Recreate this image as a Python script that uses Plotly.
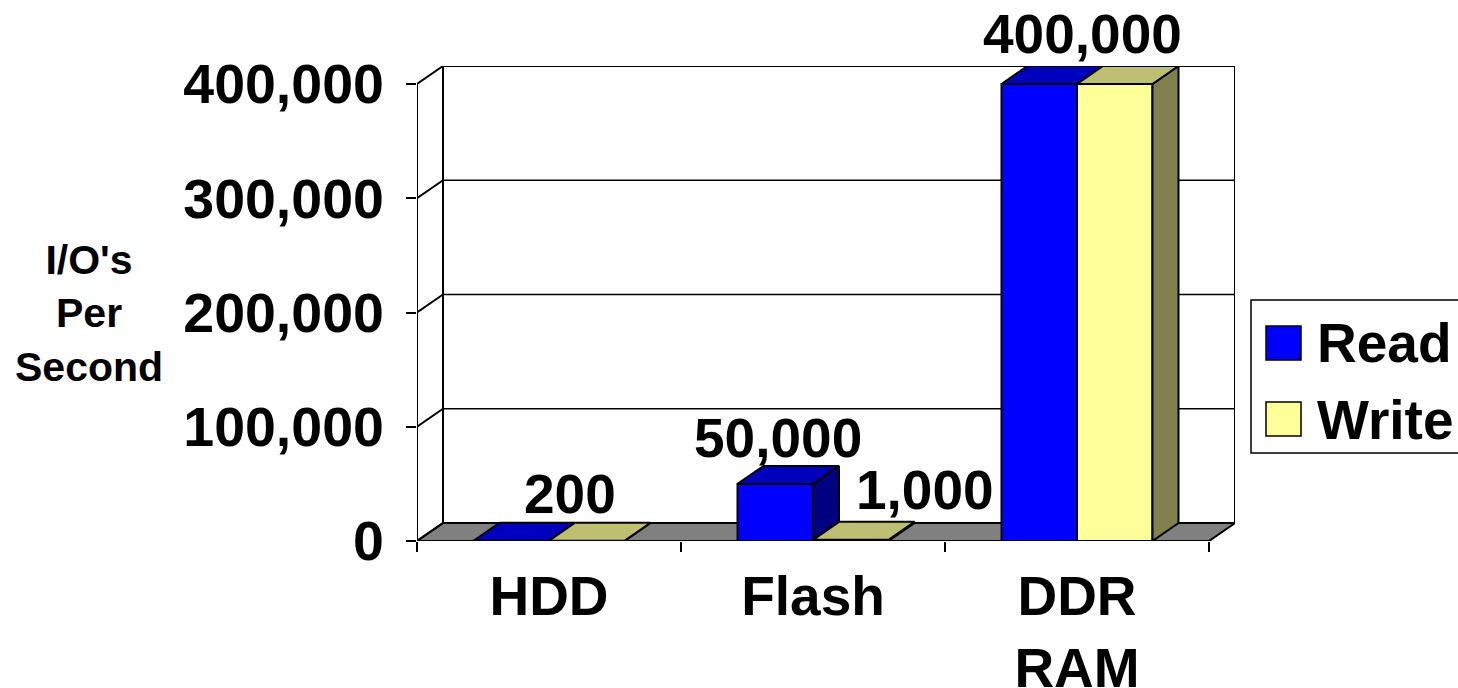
import plotly.graph_objects as go

categories = ["HDD", "Flash", "DDR<br>RAM"]
read_values = [200, 50000, 400000]
write_values = [200, 1000, 400000]
y_ticks = [0, 100000, 200000, 300000, 400000]
x_boundaries = [-0.5, 0.5, 1.5, 2.5]
label_texts = ["200", "50,000", "1,000", "400,000"]
label_cats = [0, 1, 1, 2]
label_vals = [200, 50000, 1000, 400000]
label_shift = [(21, 14), (-35, 13), (112, 17), (5, 17)]

W, H = 1458, 688
L, R, T, B = 417, 1235, 66, 541
DX = 26 / 264
DY = 18 / 457 * 400000
BW = 0.286
FONT = "Liberation Sans, Arial, sans-serif"
LW = 2


def px(x):
    return (x - L) / (R - L)


def py(y):
    return (B - y) / (B - T)


series = [
    ("Read", read_values, "#0000FF", "#0000BF", "#000080"),
    ("Write", write_values, "#FFFF99", "#BFBF73", "#80804D"),
]
xs = list(range(len(categories)))
fig = go.Figure()

for i, (name, vals, front, top, side) in enumerate(series):
    fig.add_trace(go.Bar(
        x=xs, y=vals, name=name, width=BW, offset=-BW + i * BW,
        marker=dict(color=front, line=dict(color="black", width=LW)),
        showlegend=False, cliponaxis=False,
    ))

for i, (name, vals, front, top, side) in enumerate(series):
    nxt = series[i + 1][1] if i + 1 < len(series) else [0] * len(vals)
    for c, v in zip(xs, vals):
        x0 = c - BW + i * BW
        x1 = x0 + BW
        if v > nxt[c]:
            low = nxt[c]
            fig.add_trace(go.Scatter(
                x=[x1, x1, x1 + DX, x1 + DX, x1],
                y=[low, v, v + DY, low + DY, low],
                mode="lines", fill="toself", fillcolor=side,
                line=dict(color="black", width=LW),
                showlegend=False, hoverinfo="skip", cliponaxis=False,
            ))
        fig.add_trace(go.Scatter(
            x=[x0, x1, x1 + DX, x0 + DX, x0],
            y=[v, v, v + DY, v + DY, v],
            mode="lines", fill="toself", fillcolor=top,
            line=dict(color="black", width=LW),
            showlegend=False, hoverinfo="skip", cliponaxis=False,
        ))

x_l, x_r = x_boundaries[0], x_boundaries[-1]
y_top = y_ticks[-1]
line = dict(color="black", width=LW)
thin = dict(color="black", width=1.5)
shapes = [
    # back wall
    dict(type="rect", x0=x_l + DX, x1=x_r + DX, y0=DY, y1=y_top + DY,
         fillcolor="white", line=line, layer="below"),
    # floor
    dict(type="path", fillcolor="#808080", line=line, layer="below",
         path=f"M{x_l},0 L{x_l + DX},{DY} L{x_r + DX},{DY} L{x_r},0 Z"),
    # left wall edge
    dict(type="line", x0=x_l, x1=x_l, y0=0, y1=y_top, line=line, layer="below"),
    # floor front edge
    dict(type="line", x0=x_l, x1=x_r, y0=0, y1=0, line=line, layer="below"),
]
for t in y_ticks:
    shapes.append(dict(type="line", x0=x_l, x1=x_l + DX, y0=t, y1=t + DY, line=line, layer="below"))
    shapes.append(dict(type="line", x0=x_l + DX, x1=x_r + DX, y0=t + DY, y1=t + DY, line=thin, layer="below"))
for s in shapes:
    s.update(xref="x", yref="y")

# legend box, clipped by the page edge as in the picture
shapes += [
    dict(type="rect", xref="paper", yref="paper", x0=px(1251), x1=px(1470), y0=py(453), y1=py(300),
         fillcolor="white", line=thin, layer="above"),
    dict(type="rect", xref="paper", yref="paper", x0=px(1266), x1=px(1301), y0=py(360), y1=py(326),
         fillcolor=series[0][2], line=thin, layer="above"),
    dict(type="rect", xref="paper", yref="paper", x0=px(1266), x1=px(1301), y0=py(436), y1=py(402),
         fillcolor=series[1][2], line=thin, layer="above"),
]

annotations = []
for text, c, v, (dx, dy) in zip(label_texts, label_cats, label_vals, label_shift):
    annotations.append(dict(
        x=c, y=v, xref="x", yref="y", text=text, showarrow=False,
        xanchor="center", yanchor="bottom", xshift=dx, yshift=dy,
        font=dict(family=FONT, size=55, color="black", weight="bold"),
    ))
annotations.append(dict(
    x=px(89), y=py(313), xref="paper", yref="paper", text="I/O's<br>Per<br>Second",
    showarrow=False, xanchor="center", yanchor="middle", align="center",
    font=dict(family=FONT, size=41, color="black", weight="bold"),
))
for (name, *_), yc in zip(series, (343, 420)):
    annotations.append(dict(
        x=px(1315), y=py(yc), xref="paper", yref="paper", text=name,
        showarrow=False, xanchor="left", yanchor="middle",
        xshift=0, font=dict(family=FONT, size=55, color="black", weight="bold"),
    ))

fig.update_layout(
    template="none",
    width=W, height=H, margin=dict(l=L, r=W - R, t=T, b=H - B, pad=0),
    paper_bgcolor="white", plot_bgcolor="rgba(0,0,0,0)",
    barmode="overlay", showlegend=False,
    shapes=shapes, annotations=annotations,
    font=dict(family=FONT, color="black"),
)
fig.update_xaxes(
    automargin=False,
    range=[x_l, x_r + DX], showgrid=False, zeroline=False, showline=False,
    tickmode="array", tickvals=xs, ticktext=categories, ticks="",
    ticklabelstandoff=18,
    tickfont=dict(family=FONT, size=55, color="black", weight="bold"),
    minor=dict(tickmode="array", tickvals=x_boundaries, ticks="outside",
               ticklen=10, tickwidth=1.5, tickcolor="black", showgrid=False),
)
fig.update_yaxes(
    automargin=False,
    range=[0, y_top + DY], showgrid=False, zeroline=False, showline=False,
    tickmode="array", tickvals=y_ticks, tickformat=",", ticks="outside",
    ticklen=10, tickwidth=1.5, tickcolor="black", ticklabelstandoff=11,
    tickfont=dict(family=FONT, size=55.5, color="black", weight="bold"),
)
fig.write_html("out.html", config={"displayModeBar": False},
               post_script="document.body.style.margin='0';")
